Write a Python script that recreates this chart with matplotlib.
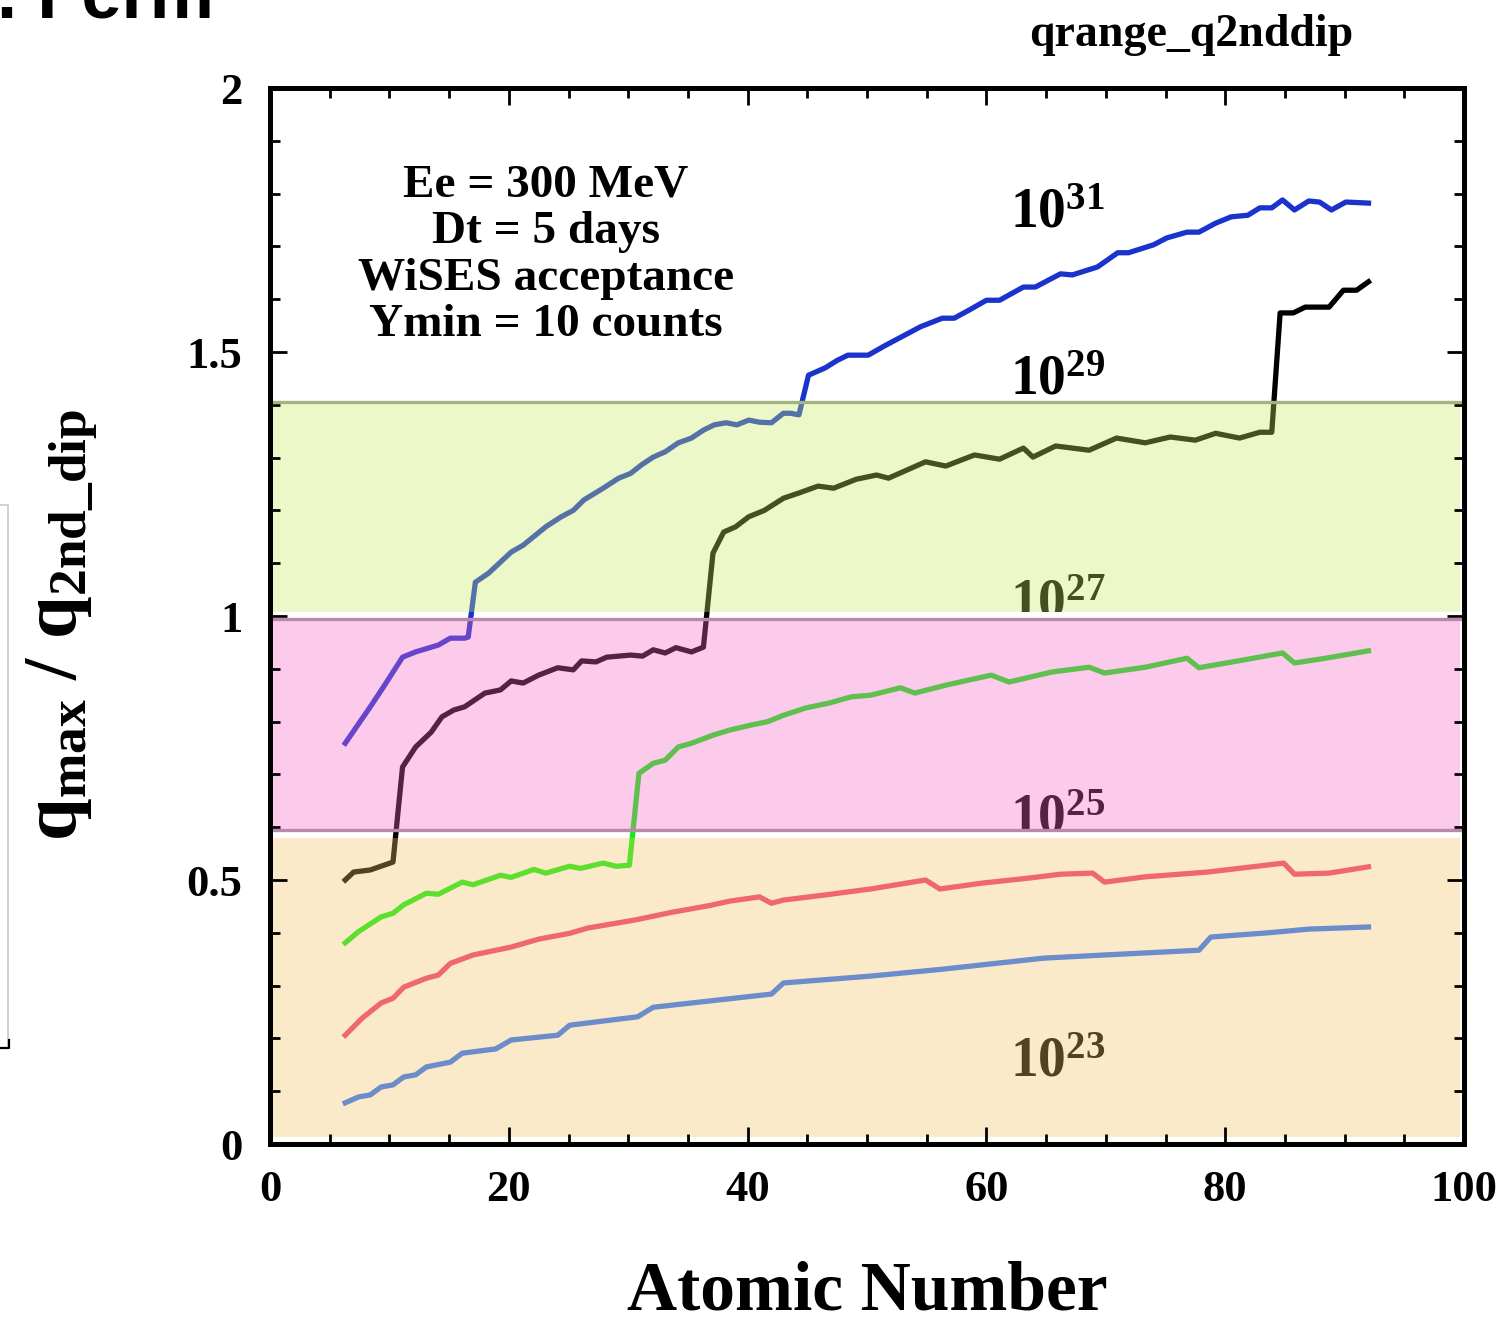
import matplotlib
matplotlib.use('Agg')
import matplotlib.pyplot as plt
from matplotlib.patches import Rectangle
from matplotlib.lines import Line2D
from matplotlib.ticker import MultipleLocator
from matplotlib.colors import to_rgb
import numpy as np

plt.rcParams['font.family'] = ['Liberation Serif', 'DejaVu Serif']
plt.rcParams['font.weight'] = 'bold'
plt.rcParams['axes.labelweight'] = 'bold'
plt.rcParams['mathtext.fontset'] = 'custom'
plt.rcParams['mathtext.rm'] = 'Liberation Serif:bold'
plt.rcParams['mathtext.bf'] = 'Liberation Serif:bold'
plt.rcParams['mathtext.it'] = 'Liberation Serif:bold:italic'
plt.rcParams['mathtext.default'] = 'bf'

# ---- data: atomic number Z vs q_max / q_2nd_dip ----
# luminosity 1e31
z_31 = [6.3, 8.4, 9.6, 11.1, 12.2, 14.1, 15.1, 16.3, 16.6, 17.2, 18.3, 20.2, 21.2, 23.1, 24.4,
        25.4, 26.3, 27.9, 29.2, 30.2, 31.1, 32.1, 33.1, 34.2, 35.3, 36.3, 37.2, 38.2, 39.1, 40.1,
        41.0, 42.0, 43.0, 43.6, 44.3, 45.1, 46.5, 47.5, 48.4, 50.1, 51.5, 53.0, 54.5, 56.3, 57.3,
        58.6, 60.0, 61.1, 63.1, 64.1, 66.2, 67.2, 69.3, 71.0, 71.9, 74.0, 75.1, 76.8, 77.8, 79.2,
        80.5, 81.9, 82.9, 83.9, 84.8, 85.8, 87.0, 87.9, 88.9, 90.1, 92.0]
q_31 = [0.759, 0.828, 0.869, 0.922, 0.932, 0.945, 0.958, 0.958, 0.960, 1.064, 1.081, 1.121, 1.134, 1.169, 1.188,
        1.200, 1.220, 1.242, 1.261, 1.270, 1.286, 1.301, 1.311, 1.328, 1.337, 1.352, 1.362, 1.366, 1.362, 1.371,
        1.367, 1.366, 1.384, 1.384, 1.381, 1.456, 1.470, 1.484, 1.494, 1.494, 1.512, 1.530, 1.548, 1.564, 1.564,
        1.580, 1.598, 1.598, 1.623, 1.623, 1.648, 1.646, 1.661, 1.688, 1.688, 1.703, 1.716, 1.727, 1.727, 1.744,
        1.756, 1.759, 1.773, 1.773, 1.788, 1.769, 1.786, 1.784, 1.769, 1.784, 1.782]
# 1e29
z_29 = [6.3, 7.0, 8.4, 10.3, 11.1, 12.2, 13.5, 14.4, 15.4, 16.3, 18.0, 19.3, 20.2, 21.2, 22.5,
        24.1, 25.4, 26.1, 27.3, 28.2, 30.2, 31.2, 32.1, 33.1, 34.0, 35.3, 36.3, 37.1, 38.0, 39.0,
        40.1, 41.4, 43.0, 44.3, 45.9, 47.2, 49.1, 50.8, 51.8, 54.9, 56.6, 59.0, 61.1, 63.1, 63.9,
        65.8, 68.6, 70.9, 73.3, 75.4, 77.5, 79.2, 81.2, 82.9, 83.9, 84.6, 85.7, 86.7, 88.7, 89.9,
        91.0, 92.0]
q_29 = [0.500, 0.515, 0.519, 0.534, 0.714, 0.752, 0.780, 0.809, 0.822, 0.828, 0.854, 0.860, 0.877, 0.873, 0.888,
        0.902, 0.898, 0.915, 0.913, 0.922, 0.926, 0.924, 0.936, 0.930, 0.940, 0.932, 0.941, 1.119, 1.159, 1.169,
        1.188, 1.200, 1.223, 1.233, 1.246, 1.242, 1.259, 1.267, 1.261, 1.292, 1.284, 1.305, 1.297, 1.318, 1.301,
        1.322, 1.314, 1.337, 1.328, 1.339, 1.333, 1.346, 1.337, 1.348, 1.348, 1.574, 1.574, 1.585, 1.585, 1.617,
        1.617, 1.633]
# 1e27
z_27 = [6.3, 7.4, 9.3, 10.3, 11.2, 13.1, 14.1, 16.1, 17.0, 19.3, 20.2, 22.1, 23.1, 25.1, 26.0,
        27.9, 29.0, 30.1, 30.9, 32.1, 33.1, 34.2, 35.3, 37.2, 38.5, 40.4, 41.7, 43.0, 44.9, 46.8,
        48.7, 50.3, 52.8, 54.0, 56.6, 60.4, 61.9, 65.5, 68.6, 69.9, 73.3, 76.8, 77.8, 81.6, 84.8,
        85.8, 88.4, 92.0]
q_27 = [0.381, 0.402, 0.430, 0.437, 0.453, 0.475, 0.473, 0.496, 0.491, 0.509, 0.505, 0.520, 0.513, 0.526, 0.522,
        0.532, 0.526, 0.528, 0.702, 0.721, 0.727, 0.752, 0.759, 0.775, 0.784, 0.794, 0.800, 0.812, 0.826, 0.835,
        0.847, 0.850, 0.864, 0.854, 0.869, 0.888, 0.875, 0.894, 0.903, 0.892, 0.903, 0.920, 0.902, 0.917, 0.930,
        0.911, 0.920, 0.934]
# 1e25
z_25 = [6.3, 7.7, 9.3, 10.3, 11.2, 13.1, 14.1, 15.1, 17.0, 20.2, 22.5, 25.1, 26.6, 30.5, 33.7,
        36.9, 38.5, 41.0, 42.0, 43.0, 46.6, 50.3, 54.9, 56.1, 59.6, 63.7, 66.2, 68.9, 69.9, 73.3,
        78.5, 84.9, 85.8, 88.7, 92.0]
q_25 = [0.206, 0.238, 0.267, 0.276, 0.297, 0.314, 0.320, 0.342, 0.358, 0.373, 0.388, 0.399, 0.409, 0.424, 0.439,
        0.452, 0.460, 0.468, 0.456, 0.462, 0.472, 0.483, 0.500, 0.483, 0.494, 0.504, 0.511, 0.513, 0.496, 0.506,
        0.515, 0.532, 0.511, 0.513, 0.525]
# 1e23
z_23 = [6.3, 7.4, 8.4, 9.3, 10.3, 11.2, 12.2, 13.1, 15.1, 16.1, 18.9, 20.2, 24.1, 25.1, 30.8,
        32.1, 42.0, 43.0, 50.3, 56.3, 64.8, 69.9, 77.8, 78.8, 83.6, 87.0, 92.0]
q_23 = [0.078, 0.089, 0.093, 0.108, 0.112, 0.127, 0.131, 0.146, 0.155, 0.172, 0.180, 0.197, 0.206, 0.225, 0.241,
        0.259, 0.284, 0.305, 0.318, 0.331, 0.352, 0.358, 0.367, 0.392, 0.400, 0.407, 0.411]

exponents = ['31', '29', '27', '25', '23']
label_y = [1.735, 1.419, 0.996, 0.589, 0.127]   # baseline of the 10^n labels

# shaded q ranges (lower, upper)
band_lo = [0.013, 0.595, 1.008]
band_hi = [0.580, 0.995, 1.405]

info_lines = ['Ee = 300 MeV', 'Dt = 5 days', 'WiSES acceptance', 'Ymin = 10 counts']

# ---- figure ----
fig = plt.figure(figsize=(15.01, 13.25), dpi=100)
ax = fig.add_axes([270 / 1501, 1 - 1144 / 1325, 1194 / 1501, 1056 / 1325])

series = [(z_31, q_31, '#1a33cc'), (z_29, q_29, '#000000'), (z_27, q_27, '#10ee14'),
          (z_25, q_25, '#ea3878'), (z_23, q_23, '#2570ff')]
for z, q, c in series:
    ax.plot(z, q, color=c, lw=3.8, zorder=1, solid_joinstyle='round')

for e, yb in zip(exponents, label_y):
    t = ax.text(62.0, yb, r'$10^{%s}$' % e, fontsize=40, ha='left', va='baseline',
                color='black', zorder=1, clip_on=True)
    # the labels sitting on a band edge are hidden below it
    if e == '27':
        t.set_clip_path(Rectangle((0, band_lo[2]), 100, 1, transform=ax.transData))
    if e == '25':
        t.set_clip_path(Rectangle((0, band_lo[1]), 100, 1, transform=ax.transData))

# semi transparent bands laid over the curves, tinting them
alpha = 0.34
seen = ['#fcebcb', '#fdccec', '#edf9c9']   # band colours as they look on white
for lo, hi, col in zip(band_lo, band_hi, seen):
    face = np.clip((np.array(to_rgb(col)) - (1 - alpha)) / alpha, 0, 1)
    ax.axhspan(lo, hi, xmin=0.002, xmax=0.997, color=face, alpha=alpha, lw=0, zorder=1.5)

ax.axhline(band_hi[2], xmin=0.002, xmax=0.997, color='#a3b483', lw=2.4, zorder=1.6)
ax.axhline(band_lo[1], xmin=0.002, xmax=0.997, color='#b78ba8', lw=2.4, zorder=1.6)
ax.axhline(band_hi[1], xmin=0.002, xmax=0.997, color='#b78ba8', lw=2.4, zorder=1.6)

for txt, yb in zip(info_lines, [1.794, 1.706, 1.617, 1.530]):
    ax.text(23.1, yb, txt, fontsize=34, ha='center', va='baseline')

ax.set_xlim(0, 100)
ax.set_ylim(0, 2)
ax.xaxis.set_major_locator(MultipleLocator(20))
ax.xaxis.set_minor_locator(MultipleLocator(5))
ax.yaxis.set_major_locator(MultipleLocator(0.5))
ax.yaxis.set_minor_locator(MultipleLocator(0.1))
ax.set_yticks([0, 0.5, 1, 1.5, 2])
ax.set_yticklabels(['0', '0.5', '1', '1.5', '2'])
ax.tick_params(which='both', direction='in', top=True, right=True, width=2.0, labelsize=32)
ax.tick_params(which='major', length=12)
ax.tick_params(which='minor', length=7)
ax.tick_params(axis='x', pad=19)
ax.tick_params(axis='y', pad=20)
for s in ax.spines.values():
    s.set_linewidth(3.6)

ax.set_xlabel('Atomic Number', fontsize=50, fontweight='bold')
ax.xaxis.set_label_coords(0.5, -0.171)
ax.xaxis.label.set_va('bottom')

fig.text(62 / 1501, 1 - 625 / 1325, r'$q_{max}$ / $q_{2nd\_dip}$', fontsize=55,
         rotation=90, ha='center', va='center')
fig.text(1191 / 1501, 1 - 46 / 1325, 'qrange_q2nddip', fontsize=33, ha='center', va='baseline')

# bits of the slide around the chart
fig.text(-3 / 1501, 1 - 18 / 1325, '. Ferm', fontsize=52, family='Liberation Sans',
         weight='bold', ha='left', va='baseline')
fig.add_artist(Line2D([0, 8 / 1501, 8 / 1501], [1 - 505 / 1325, 1 - 505 / 1325, 1 - 1046 / 1325],
                      color='#c8c8c8', lw=1.2))
fig.add_artist(Line2D([9 / 1501, 9 / 1501, 0], [1 - 1040 / 1325, 1 - 1048 / 1325, 1 - 1048 / 1325],
                      color='black', lw=1.6))

fig.savefig('out.png', dpi=100)
